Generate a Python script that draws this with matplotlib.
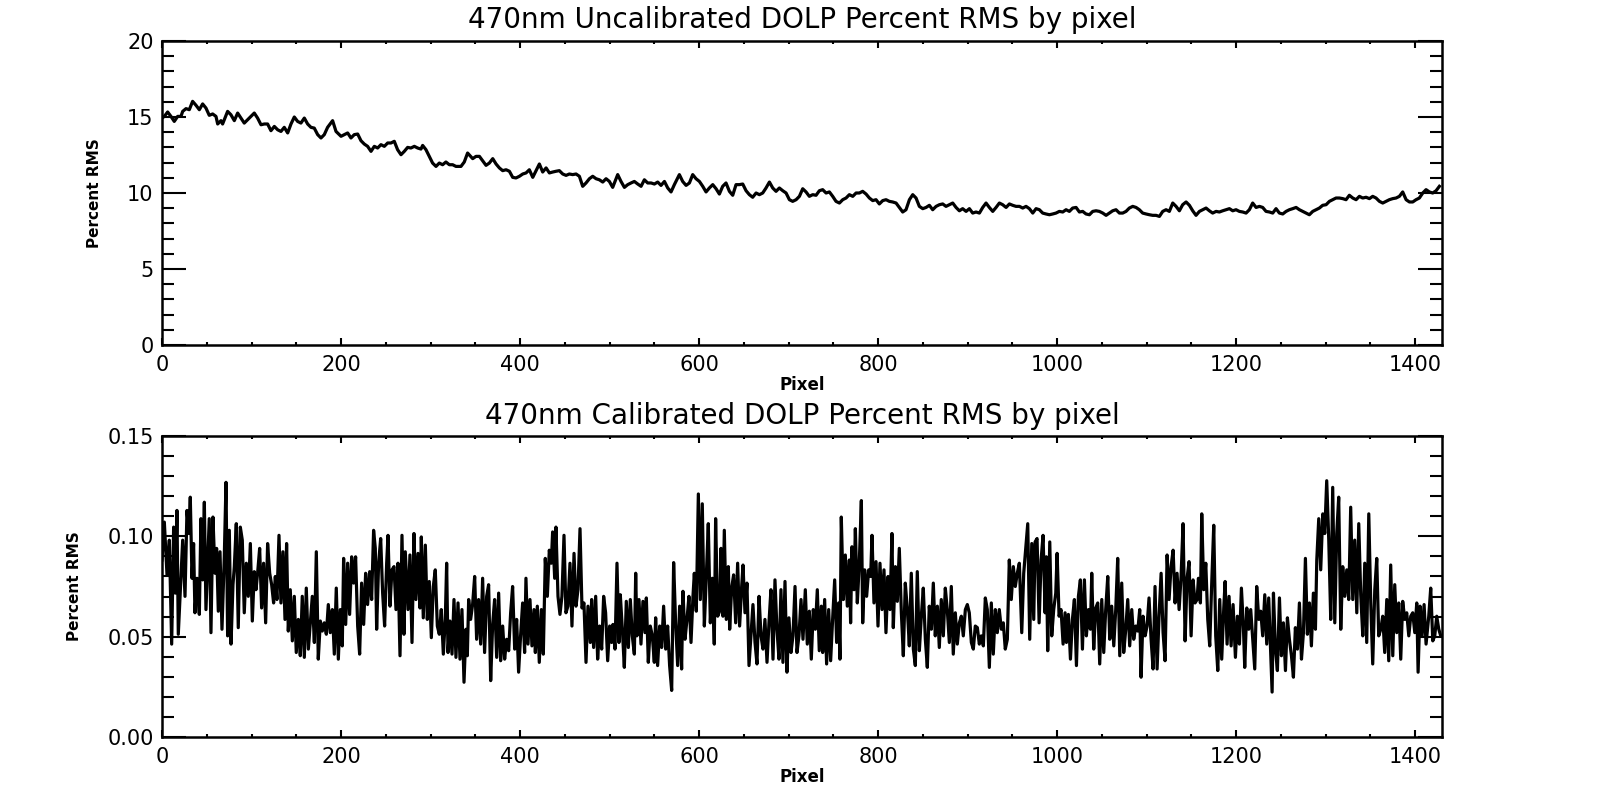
import matplotlib
matplotlib.use("Agg")
import matplotlib.pyplot as plt
from matplotlib.ticker import MultipleLocator, FixedLocator, FixedFormatter

# ---------------- data ----------------
titles = ["470nm Uncalibrated DOLP Percent RMS by pixel",
          "470nm Calibrated DOLP Percent RMS by pixel"]
x_label = "Pixel"
y_label = "Percent RMS"
x_ticks = [0, 200, 400, 600, 800, 1000, 1200, 1400]
top_y_ticks = [0, 5, 10, 15, 20]
top_y_labels = ["0", "5", "10", "15", "20"]
bottom_y_ticks = [0.00, 0.05, 0.10, 0.15]
bottom_y_labels = ["0.00", "0.05", "0.10", "0.15"]

# uncalibrated DOLP percent RMS (pixel, value)
uncal_a = [(0, 14.93), (2.6, 15.04), (6.3, 15.33), (10, 15.04), (13.7, 14.71), (17.5, 15.04),
           (21.2, 15.04), (23.1, 15.37), (26.8, 15.55), (30.5, 15.48), (34.2, 16.03), (38, 15.77),
           (41.7, 15.48), (45.4, 15.86), (49.1, 15.59), (52.8, 15.11), (56.6, 15.20), (60.3, 15.04),
           (62.2, 14.54), (65.9, 14.76), (67.7, 14.54), (73.3, 15.37), (77, 15.15), (80.8, 14.76),
           (84.5, 15.26), (88.2, 14.93), (91.9, 14.60), (97.5, 14.93), (103.1, 15.26), (106.8, 14.93),
           (110.6, 14.49), (114.3, 14.54), (118, 14.54), (121.7, 14.10), (125.5, 14.38), (129.2, 14.16),
           (132.9, 14.05), (136.6, 14.32), (140.4, 13.95), (144.1, 14.54), (147.8, 15.00), (151.5, 14.71),
           (155.2, 14.60), (159, 14.93), (162.7, 14.54), (166.4, 14.32), (170.1, 14.27), (173.9, 13.84),
           (177.6, 13.62), (181.3, 13.84), (185, 14.32), (190.6, 14.76), (194.4, 14.05), (200, 13.73),
           (203.7, 13.84), (207.4, 13.95), (211.1, 13.62), (214.8, 13.84), (218.6, 13.88), (222.3, 13.44),
           (226, 13.22), (229.7, 13.07), (233.5, 12.74), (237.2, 13.07), (240.9, 12.96), (244.6, 13.18),
           (248.4, 13.07), (252.1, 13.29), (255.8, 13.29), (259.5, 13.40), (263.2, 12.85), (267, 12.52),
           (270.7, 12.74), (274.4, 13.00), (278.1, 12.96), (281.9, 13.07), (285.6, 12.96), (289.3, 12.89),
           (291.2, 13.13), (294.9, 12.85), (298.6, 12.41), (302.3, 11.97), (306.1, 11.75), (309.8, 11.97),
           (313.5, 11.86), (317.2, 12.04), (321, 11.86), (324.7, 11.86), (328.4, 11.75), (334, 11.75),
           (337.7, 12.04), (341.4, 12.63)]
uncal_b = [(347.1, 12.26), (350.8, 12.41), (354.6, 12.41), (358.3, 12.12), (362, 11.82), (365.7, 11.97),
           (369.5, 12.26), (373.2, 11.91), (376.9, 11.65), (380.6, 11.47), (384.4, 11.53), (388.1, 11.43),
           (391.8, 11.03), (395.5, 10.99), (399.3, 11.10), (403, 11.25), (406.7, 11.32), (410.4, 11.53),
           (414.2, 11.03), (417.9, 11.47), (421.6, 11.91), (425.3, 11.38), (429.1, 11.65), (432.8, 11.32),
           (436.5, 11.38), (440.2, 11.43), (443.9, 11.47), (447.7, 11.25), (451.4, 11.16), (455.1, 11.25),
           (458.8, 11.21), (462.6, 11.25), (466.3, 11.10), (470, 10.44), (473.7, 10.66), (477.5, 10.94),
           (481.2, 11.10), (484.9, 10.94), (488.6, 10.87), (492.4, 10.72), (496.1, 10.94), (499.8, 10.76),
           (503.5, 10.37), (507.3, 10.94), (509.1, 11.21), (512.8, 10.76), (516.6, 10.37), (520.3, 10.55),
           (524, 10.66), (527.7, 10.76), (531.5, 10.59), (535.2, 10.44), (538.9, 10.87), (542.6, 10.66),
           (546.4, 10.66), (550.1, 10.59), (553.8, 10.72), (557.5, 10.50), (561.3, 10.76), (565, 10.33),
           (568.7, 10.07), (572.4, 10.55), (578, 11.21), (581.7, 10.76), (585.5, 10.50), (589.2, 10.66),
           (592.9, 11.21), (596.6, 10.94), (600.4, 10.76), (604.1, 10.44), (607.8, 10.07), (611.5, 10.33),
           (615.3, 10.55), (619, 10.28), (622.7, 9.93), (626.4, 10.44), (630.1, 10.66), (633.9, 10.11),
           (637.6, 9.85), (641.3, 10.55), (645, 10.55), (648.8, 10.59), (652.5, 10.15), (656.2, 9.89),
           (659.9, 9.72), (663.7, 10.00), (667.4, 9.89), (671.1, 10.00), (674.8, 10.33), (678.6, 10.72),
           (682.3, 10.33), (686, 10.11), (689.7, 10.33), (693.5, 10.15), (697.2, 10.00), (700.9, 9.56)]
uncal_c = [(704.6, 9.45), (708.4, 9.56), (712.1, 9.78), (715.8, 10.28), (719.5, 10.07), (723.2, 9.78),
           (727, 9.89), (730.7, 9.85), (734.4, 10.15), (738.1, 10.22), (741.9, 10.00), (745.6, 10.07),
           (749.3, 9.78), (753, 9.45), (756.8, 9.34), (760.5, 9.56), (764.2, 9.67), (767.9, 9.89),
           (771.7, 9.78), (775.4, 10.00), (779.1, 10.00), (782.8, 10.11), (786.6, 9.93), (790.3, 9.67),
           (794, 9.50), (797.7, 9.56), (801.4, 9.28), (805.2, 9.50), (808.9, 9.56), (812.6, 9.45),
           (816.3, 9.41), (820.1, 9.34), (823.8, 9.05), (827.5, 8.75), (831.2, 8.90), (835, 9.56),
           (838.7, 9.89), (842.4, 9.67), (846.1, 9.12), (849.9, 8.97), (853.6, 9.05), (857.3, 9.19),
           (861, 8.90), (864.8, 9.12), (868.5, 9.23), (872.2, 9.28), (875.9, 9.12), (879.7, 9.23),
           (883.4, 9.34), (887.1, 9.05), (890.8, 8.83), (894.5, 8.97), (898.3, 8.79), (902, 8.97),
           (905.7, 8.68), (909.4, 8.75), (913.2, 8.68), (916.9, 9.05), (920.6, 9.34), (924.3, 9.05),
           (928.1, 8.79), (931.8, 9.05), (935.5, 9.34), (939.2, 9.23), (943, 9.05), (946.7, 9.28),
           (950.4, 9.19), (954.1, 9.12), (957.9, 9.12), (961.6, 9.01), (965.3, 9.12), (969, 8.97),
           (972.8, 8.68), (976.5, 8.97), (980.2, 8.90), (983.9, 8.68), (987.6, 8.62), (991.4, 8.57),
           (995.1, 8.62), (998.8, 8.68), (1002.5, 8.79), (1006.3, 8.75), (1010, 8.90), (1013.7, 8.79),
           (1017.4, 9.01), (1021.2, 9.05), (1024.9, 8.75), (1028.6, 8.79), (1032.3, 8.62), (1036.1, 8.57),
           (1039.8, 8.79), (1043.5, 8.83), (1047.2, 8.79), (1051, 8.68), (1054.7, 8.53), (1058.4, 8.68)]
uncal_d = [(1062.1, 8.83), (1065.8, 8.90), (1069.6, 8.68), (1073.3, 8.68), (1077, 8.79), (1080.7, 9.01),
           (1084.5, 9.12), (1088.2, 9.05), (1091.9, 8.90), (1095.6, 8.68), (1099.4, 8.62), (1103.1, 8.57),
           (1106.8, 8.53), (1110.5, 8.53), (1114.3, 8.46), (1118, 8.79), (1121.7, 8.90), (1125.4, 8.79),
           (1129.2, 9.34), (1132.9, 9.12), (1136.6, 8.83), (1140.3, 9.23), (1144.1, 9.41), (1147.8, 9.19),
           (1151.5, 8.83), (1155.2, 8.53), (1159, 8.79), (1162.7, 8.90), (1166.4, 9.01), (1170.1, 8.83),
           (1173.8, 8.68), (1177.6, 8.79), (1181.3, 8.75), (1185, 8.83), (1188.7, 8.90), (1192.5, 8.97),
           (1196.2, 8.83), (1199.9, 8.90), (1203.6, 8.79), (1207.4, 8.75), (1211.1, 8.68), (1214.8, 8.90),
           (1218.5, 9.34), (1222.3, 9.05), (1226, 9.12), (1229.7, 9.05), (1233.4, 8.79), (1237.2, 8.75),
           (1240.9, 8.68), (1244.6, 8.97), (1248.3, 8.68), (1252.1, 8.62), (1255.8, 8.79), (1259.5, 8.90),
           (1263.2, 8.97), (1267, 9.05), (1270.7, 8.90), (1274.4, 8.79), (1278.1, 8.68), (1281.8, 8.57),
           (1285.6, 8.79), (1289.3, 8.90), (1293, 9.01), (1296.7, 9.19), (1300.5, 9.23), (1304.2, 9.45),
           (1307.9, 9.56), (1311.6, 9.67), (1315.4, 9.67), (1319.1, 9.63), (1322.8, 9.56), (1326.5, 9.85),
           (1330.3, 9.67), (1334, 9.56), (1337.7, 9.78), (1341.4, 9.67), (1345.2, 9.72), (1348.9, 9.63),
           (1352.6, 9.78), (1356.3, 9.67), (1360.1, 9.45), (1363.8, 9.34), (1367.5, 9.45), (1371.2, 9.56),
           (1375, 9.63), (1378.7, 9.67), (1382.4, 9.78), (1386.1, 10.07), (1389.9, 9.56), (1393.6, 9.41),
           (1397.3, 9.41), (1401, 9.56), (1404.7, 9.67), (1408.5, 10.00), (1412.2, 10.22), (1415.9, 10.07),
           (1419.6, 10.00), (1423.4, 10.15), (1427.1, 10.44)]

# calibrated DOLP percent RMS (pixel, value)
cal_a = [(0, 0.0882), (2.6, 0.1071), (5.6, 0.0808), (8.2, 0.0981), (10.8, 0.0463), (13, 0.1046),
         (14.9, 0.0717), (16.7, 0.1129), (18.2, 0.0512), (20.4, 0.0726), (23.1, 0.0981), (25.7, 0.0701),
         (27.9, 0.1129), (30.1, 0.1014), (31.6, 0.1195), (33.5, 0.0791), (35.3, 0.0964), (36.8, 0.0619),
         (39.1, 0.0791), (41.7, 0.0611), (43.5, 0.1088), (45.4, 0.0783), (47.3, 0.1170), (49.1, 0.0635),
         (51, 0.0866), (52.8, 0.1088), (54.7, 0.0520), (56.9, 0.1096), (59.2, 0.0816), (61, 0.0940),
         (62.9, 0.0627), (64.8, 0.0923), (67, 0.0537), (69.6, 0.0898), (71.5, 0.1269), (73.3, 0.0504),
         (75.2, 0.1030), (77.1, 0.0463), (79.3, 0.0759), (80.8, 0.0849), (83, 0.1063), (85.2, 0.0545),
         (87.5, 0.1046), (89.7, 0.0981), (91.9, 0.0619), (94.2, 0.0866), (96.4, 0.0701), (98.7, 0.0964),
         (100.9, 0.0578), (103.1, 0.0824), (105, 0.0734), (106.8, 0.0816), (109.1, 0.0940), (111.3, 0.0643),
         (113.5, 0.0866), (115.8, 0.0569), (118, 0.0964), (120.3, 0.0816), (122.5, 0.0759), (124.7, 0.0668),
         (126.6, 0.0800), (128.4, 0.0685), (130.7, 0.1005), (132.9, 0.0668), (135.1, 0.0923), (137.4, 0.0586),
         (139.2, 0.0964), (141.1, 0.0528), (143.3, 0.0734), (145.6, 0.0479), (147.8, 0.0701), (150, 0.0421),
         (152.3, 0.0586), (154.5, 0.0405), (156.7, 0.0701), (159, 0.0397), (161.2, 0.0742), (163.5, 0.0438),
         (165.7, 0.0569), (167.9, 0.0701), (170.2, 0.0471), (172.4, 0.0923), (174.6, 0.0388), (176.9, 0.0578),
         (179.1, 0.0528), (181.3, 0.0569), (183.6, 0.0512), (185.8, 0.0660), (188, 0.0520), (190.3, 0.0635),
         (192.5, 0.0413), (194.7, 0.0742), (197, 0.0388), (199.2, 0.0635), (201.4, 0.0454), (202.9, 0.0890),
         (205.2, 0.0561), (207.4, 0.0866), (209.6, 0.0611), (211.9, 0.0898), (214.1, 0.0767), (216.3, 0.0898),
         (218.6, 0.0553), (220.8, 0.0413), (223, 0.0767), (225.3, 0.0561), (227.5, 0.0816), (229.7, 0.0660),
         (232, 0.0824), (234.2, 0.0685), (236.4, 0.1030)]
cal_b = [(238.3, 0.0940), (239.8, 0.0537), (242, 0.0866), (244.3, 0.0989), (246.5, 0.0717), (248.7, 0.0553),
         (251, 0.0866), (252.5, 0.1005), (254.7, 0.0652), (256.9, 0.0833), (259.2, 0.0849), (261.4, 0.0635),
         (263.6, 0.0866), (265.9, 0.0405), (268.1, 0.1005), (270.3, 0.0512), (271.8, 0.0923), (274.8, 0.0635),
         (277, 0.0907), (279.3, 0.0471), (281.5, 0.1014), (283.7, 0.0685), (286, 0.0915), (288.2, 0.0643),
         (289.7, 0.0997), (291.9, 0.0594), (294.2, 0.0956), (296.4, 0.0586), (298.6, 0.0775), (300.9, 0.0495),
         (303.1, 0.0750), (305.3, 0.0833), (307.6, 0.0553), (309.8, 0.0512), (312, 0.0635), (314.3, 0.0413),
         (316.5, 0.0586), (318, 0.0866), (319.5, 0.0421), (321.7, 0.0578), (324, 0.0413), (326.2, 0.0685),
         (328.4, 0.0397), (330.7, 0.0668), (332.9, 0.0388), (335.1, 0.0635), (337.4, 0.0273), (339.6, 0.0537),
         (341.1, 0.0405), (342.6, 0.0685), (344.8, 0.0586), (347, 0.0660), (349.3, 0.0800), (351.5, 0.0487),
         (353.7, 0.0685), (356, 0.0463), (358.2, 0.0791), (360.4, 0.0421), (362.7, 0.0701), (364.9, 0.0759),
         (367.2, 0.0281), (369.4, 0.0561), (371.6, 0.0685), (373.9, 0.0397), (376.1, 0.0717), (378.3, 0.0380),
         (380.6, 0.0553), (382.8, 0.0388), (385, 0.0487), (387.3, 0.0430), (389.5, 0.0619), (391.7, 0.0750),
         (394, 0.0438), (396.2, 0.0586), (398.4, 0.0323), (400.7, 0.0512), (402.9, 0.0668), (405.1, 0.0421),
         (406.6, 0.0791), (408.9, 0.0463), (411.1, 0.0685), (413.3, 0.0454), (415.6, 0.0635), (417.1, 0.0421),
         (419.3, 0.0652), (421.5, 0.0372), (423.8, 0.0635), (426, 0.0413), (428.2, 0.0890), (430.5, 0.0701),
         (432.7, 0.0931), (434.9, 0.0866), (436.4, 0.1022), (438.7, 0.0791), (440.1, 0.1046), (442.4, 0.0701),
         (444.6, 0.0611), (446.8, 0.0701), (449.1, 0.1005), (451.3, 0.0619), (453.5, 0.0652), (455.8, 0.0866),
         (458, 0.0553), (460.3, 0.0915), (462.5, 0.0652), (464.7, 0.0734), (467, 0.1038), (469.2, 0.0643),
         (471.4, 0.0668), (473.7, 0.0372), (475.9, 0.0652)]
cal_c = [(478.5, 0.0471), (480, 0.0685), (482.2, 0.0446), (484.5, 0.0701), (486.7, 0.0388), (488.9, 0.0553),
         (491.2, 0.0438), (493.4, 0.0701), (495.6, 0.0619), (497.9, 0.0380), (500.1, 0.0553), (502.3, 0.0471),
         (503.8, 0.0561), (506.1, 0.0438), (508.3, 0.0866), (510.5, 0.0471), (512, 0.0709), (514.3, 0.0537),
         (516.5, 0.0347), (518.7, 0.0676), (521, 0.0446), (523.2, 0.0685), (525.4, 0.0504), (527.7, 0.0413),
         (529.2, 0.0816), (530.6, 0.0504), (532.9, 0.0685), (535.1, 0.0463), (537.3, 0.0676), (539.6, 0.0520),
         (541.1, 0.0693), (543.3, 0.0372), (545.5, 0.0553), (547.8, 0.0504), (550, 0.0372), (551.5, 0.0594),
         (553.7, 0.0356), (556, 0.0553), (558.2, 0.0446), (560.4, 0.0652), (562.7, 0.0438), (564.9, 0.0553),
         (567.1, 0.0356), (569.4, 0.0232), (571.6, 0.0869), (573.8, 0.0569), (576.1, 0.0356), (578.3, 0.0652),
         (580.5, 0.0339), (582, 0.0726), (584.3, 0.0487), (586.5, 0.0586), (588.7, 0.0701), (591, 0.0471),
         (593.2, 0.0701), (594.7, 0.0816), (596.9, 0.0627), (599.2, 0.1211), (601.4, 0.0685), (603.6, 0.1162),
         (605.9, 0.0553), (608.1, 0.0800), (610.3, 0.1063), (612.6, 0.0569), (614.8, 0.0791), (617, 0.0463),
         (618.5, 0.1088), (620.8, 0.0602), (623, 0.0627), (624.5, 0.0940), (626.7, 0.0602), (628.2, 0.1030),
         (630.4, 0.0586), (632.7, 0.0849), (634.2, 0.0537), (636.4, 0.0742), (638.6, 0.0808), (640.9, 0.0569),
         (643.1, 0.0866), (645.3, 0.0553), (647.6, 0.0750), (649.1, 0.0857), (651.3, 0.0619), (653.5, 0.0767),
         (655.8, 0.0356), (658, 0.0504), (660.2, 0.0660), (662.5, 0.0471), (664.7, 0.0364), (667, 0.0701),
         (669.2, 0.0504), (671.4, 0.0438), (673.6, 0.0586), (675.9, 0.0372), (678.1, 0.0569), (680.3, 0.0734),
         (682.6, 0.0388), (684.8, 0.0783), (687, 0.0537), (689.3, 0.0388), (691.5, 0.0734), (693.7, 0.0372),
         (696, 0.0775), (698.2, 0.0323), (700.4, 0.0594), (702.7, 0.0421), (704.9, 0.0504), (707.2, 0.0750),
         (709.4, 0.0421), (711.6, 0.0504), (713.9, 0.0685), (716.1, 0.0487)]
cal_d = [(718.7, 0.0734), (720.9, 0.0463), (723.2, 0.0627), (725.4, 0.0388), (727.6, 0.0635), (729.9, 0.0537),
         (732.1, 0.0734), (734.3, 0.0430), (736.6, 0.0652), (738.1, 0.0421), (740.3, 0.0685), (742.5, 0.0364),
         (744.8, 0.0635), (747, 0.0380), (749.2, 0.0586), (751.5, 0.0783), (753.7, 0.0471), (755.9, 0.0668),
         (757.4, 0.0388), (758.9, 0.1096), (761.2, 0.0685), (763.4, 0.0907), (765.6, 0.0652), (767.9, 0.0882),
         (769.3, 0.0569), (770.8, 0.0948), (773.1, 0.0734), (774.6, 0.1038), (776.8, 0.0668), (779, 0.0866),
         (781.3, 0.1178), (782.8, 0.0569), (785, 0.0833), (787.2, 0.0701), (789.5, 0.0833), (791.7, 0.0800),
         (793.2, 0.1005), (795.4, 0.0668), (797.7, 0.0874), (799.9, 0.0553), (802.1, 0.0866), (804.4, 0.0635),
         (806.6, 0.0833), (808.8, 0.0520), (811.1, 0.0800), (813.3, 0.0635), (815.5, 0.1014), (817, 0.0545),
         (819.3, 0.0849), (821.5, 0.0676), (823.7, 0.0940), (826, 0.0619), (828.2, 0.0405), (830.4, 0.0767),
         (832.7, 0.0635), (834.9, 0.0454), (837.1, 0.0816), (839.4, 0.0438), (841.6, 0.0356), (843.8, 0.0824),
         (846.1, 0.0430), (848.3, 0.0602), (850.5, 0.0742), (852.8, 0.0487), (855, 0.0347), (857.2, 0.0652),
         (859.5, 0.0537), (861.7, 0.0767), (863.9, 0.0504), (866.2, 0.0652), (868.4, 0.0446), (870.6, 0.0685),
         (872.9, 0.0504), (875.1, 0.0742), (877.3, 0.0635), (879.6, 0.0471), (881.8, 0.0750), (884, 0.0413),
         (886.3, 0.0619), (888.5, 0.0463), (890.8, 0.0569), (893, 0.0602), (895.2, 0.0504), (897.5, 0.0635),
         (899.7, 0.0660), (901.9, 0.0619), (904.2, 0.0471), (906.4, 0.0438), (908.6, 0.0553), (910.9, 0.0545),
         (913.1, 0.0463), (915.3, 0.0504), (917.6, 0.0454), (919.8, 0.0693), (922, 0.0635), (924.3, 0.0347),
         (926.5, 0.0668), (928.7, 0.0413), (931, 0.0635), (933.2, 0.0520), (935.4, 0.0635), (937.7, 0.0537),
         (939.9, 0.0569), (942.1, 0.0438), (944.4, 0.0487), (946.6, 0.0882), (948.8, 0.0685), (951.1, 0.0849),
         (953.3, 0.0750), (955.5, 0.0816), (957.8, 0.0866)]
cal_e = [(960.5, 0.0520), (962.7, 0.0816), (965, 0.0940), (967.2, 0.1063), (969.4, 0.0487), (971.7, 0.0964),
         (973.9, 0.0586), (975.4, 0.0972), (977.6, 0.0989), (979.9, 0.0569), (982.1, 0.0882), (984.3, 0.1005),
         (986.6, 0.0619), (988, 0.0898), (989.5, 0.0430), (991.8, 0.0972), (994, 0.0504), (996.2, 0.0635),
         (998.5, 0.0717), (1000, 0.0915), (1002.2, 0.0602), (1004.4, 0.0635), (1006.7, 0.0463), (1008.9, 0.0619),
         (1010.4, 0.0471), (1012.6, 0.0611), (1014.9, 0.0388), (1017.1, 0.0586), (1019.3, 0.0685), (1021.6, 0.0356),
         (1023.8, 0.0701), (1026, 0.0783), (1028.3, 0.0438), (1030.5, 0.0783), (1032.7, 0.0504), (1035, 0.0635),
         (1037.2, 0.0537), (1038.7, 0.0816), (1040.9, 0.0438), (1043.2, 0.0643), (1045.4, 0.0668), (1047.6, 0.0364),
         (1049.9, 0.0685), (1052.1, 0.0421), (1054.3, 0.0635), (1056.6, 0.0800), (1058.8, 0.0487), (1061, 0.0652),
         (1063.3, 0.0454), (1065.5, 0.0635), (1067.7, 0.0890), (1070, 0.0405), (1072.2, 0.0767), (1074.4, 0.0421),
         (1076.7, 0.0537), (1078.9, 0.0685), (1081.1, 0.0454), (1083.4, 0.0635), (1085.6, 0.0487), (1087.9, 0.0553),
         (1090.1, 0.0528), (1092.3, 0.0635), (1093.8, 0.0298), (1096, 0.0602), (1098.3, 0.0504), (1100.5, 0.0553),
         (1102.7, 0.0693), (1105, 0.0487), (1107.2, 0.0339), (1109.4, 0.0750), (1111.7, 0.0339), (1113.9, 0.0602),
         (1116.2, 0.0816), (1118.4, 0.0520), (1120.6, 0.0380), (1122.9, 0.0907), (1125.1, 0.0685), (1127.3, 0.0849),
         (1129.6, 0.0931), (1131.8, 0.0668), (1134, 0.0816), (1136.3, 0.0635), (1138.5, 0.0800), (1140.7, 0.1063),
         (1143, 0.0479), (1145.2, 0.0791), (1147.4, 0.0874), (1149.7, 0.0504), (1151.9, 0.0783), (1154.1, 0.0668),
         (1156.4, 0.0685), (1157.9, 0.0791), (1160.1, 0.0668), (1161.6, 0.1112), (1163.8, 0.0734), (1166.1, 0.0866),
         (1168.3, 0.0586), (1170.5, 0.0454), (1172.8, 0.0775), (1175, 0.1055), (1177.2, 0.0504), (1179.5, 0.0331),
         (1181.7, 0.0685), (1183.9, 0.0388), (1186.2, 0.0643), (1187.7, 0.0775), (1189.9, 0.0463), (1192.1, 0.0701),
         (1194.4, 0.0454), (1196.6, 0.0660)]
cal_f = [(1199.2, 0.0397), (1201.4, 0.0602), (1203.7, 0.0463), (1205.9, 0.0742), (1208.1, 0.0553), (1209.6, 0.0347),
         (1211.9, 0.0643), (1214.1, 0.0537), (1216.3, 0.0635), (1218.6, 0.0487), (1220.8, 0.0339), (1223, 0.0750),
         (1225.3, 0.0586), (1227.5, 0.0627), (1229.7, 0.0504), (1232, 0.0709), (1234.2, 0.0463), (1236.4, 0.0693),
         (1237.9, 0.0504), (1240.2, 0.0224), (1241.7, 0.0717), (1243.9, 0.0438), (1246.1, 0.0331), (1248.4, 0.0693),
         (1250.6, 0.0405), (1252.8, 0.0569), (1255.1, 0.0331), (1257.3, 0.0594), (1259.5, 0.0487), (1261.8, 0.0405),
         (1264, 0.0298), (1266.2, 0.0545), (1268.5, 0.0438), (1270.7, 0.0668), (1273, 0.0388), (1275.2, 0.0520),
         (1277.4, 0.0890), (1279.6, 0.0512), (1281.9, 0.0668), (1284.1, 0.0454), (1286.3, 0.0717), (1288.6, 0.0537),
         (1290.1, 0.0882), (1292.3, 0.1088), (1294.5, 0.0833), (1296.8, 0.1112), (1299, 0.1014), (1301.2, 0.1277),
         (1303.5, 0.0981), (1305.7, 0.0586), (1307.9, 0.1244), (1310.2, 0.0569), (1312.4, 0.1014), (1314.6, 0.1195),
         (1316.9, 0.0537), (1319.1, 0.0849), (1321.4, 0.0701), (1323.6, 0.0833), (1325.8, 0.0685), (1328, 0.1145),
         (1330.3, 0.0685), (1332.5, 0.0981), (1334.8, 0.0619), (1337, 0.1063), (1339.2, 0.0709), (1341.5, 0.0504),
         (1343.7, 0.0866), (1345.9, 0.0471), (1348.2, 0.1112), (1350.4, 0.0668), (1352.6, 0.0364), (1354.9, 0.0734),
         (1357.1, 0.0890), (1359.3, 0.0504), (1361.6, 0.0537), (1363.8, 0.0602), (1366, 0.0421), (1368.3, 0.0685),
         (1370.5, 0.0380), (1372.7, 0.0857), (1375, 0.0405), (1377.2, 0.0759), (1379.4, 0.0520), (1381.7, 0.0668),
         (1383.9, 0.0388), (1386.1, 0.0676), (1388.4, 0.0586), (1390.6, 0.0619), (1392.9, 0.0504), (1395.1, 0.0602),
         (1397.3, 0.0619), (1399.6, 0.0520), (1401.8, 0.0668), (1403.3, 0.0323), (1405.5, 0.0652), (1407.7, 0.0504),
         (1410, 0.0660), (1412.2, 0.0463), (1415.2, 0.0602), (1417.4, 0.0742), (1419.7, 0.0479), (1421.9, 0.0504),
         (1424.1, 0.0602), (1426.4, 0.0537), (1428.6, 0.0504)]

x_max = 1430

# ---------------- figure ----------------
plt.rcParams['font.family'] = ['DejaVu Sans']
W, H = 1618, 794
fig = plt.figure(figsize=(W / 100, H / 100), dpi=100)
fig.patch.set_facecolor('white')

def frac(left, top, right, bottom):
    return [left / W, 1 - bottom / H, (right - left) / W, (bottom - top) / H]

ax1 = fig.add_axes(frac(162, 41, 1442, 345))
ax2 = fig.add_axes(frac(162, 436, 1442, 737))

uncal = uncal_a + uncal_b + uncal_c + uncal_d
cal = cal_a + cal_b + cal_c + cal_d + cal_e + cal_f

def style(ax, title, yt, yl, ymax, yminor):
    ax.set_xlim(0, x_max)
    ax.set_ylim(0, ymax)
    ax.xaxis.set_major_locator(FixedLocator(x_ticks))
    ax.xaxis.set_minor_locator(MultipleLocator(50))
    ax.yaxis.set_major_locator(FixedLocator(yt))
    ax.yaxis.set_major_formatter(FixedFormatter(yl))
    ax.yaxis.set_minor_locator(MultipleLocator(yminor))
    ax.tick_params(which='both', direction='in', top=True, right=True,
                   width=1.5, color='black', labelsize=15)
    ax.tick_params(axis='y', which='major', length=17, pad=6)
    ax.tick_params(axis='y', which='minor', length=8.5)
    ax.tick_params(axis='x', which='major', length=5, pad=7)
    ax.tick_params(axis='x', which='minor', length=2.5)
    for s in ax.spines.values():
        s.set_linewidth(1.8)
    ax.set_title(title, fontsize=20, pad=9)
    ax.set_xlabel(x_label, fontsize=12, fontweight='bold', labelpad=1)
    ax.set_ylabel(y_label, fontsize=11, fontweight='bold', labelpad=18)

ax1.plot([p[0] for p in uncal], [p[1] for p in uncal], color='black', lw=2.3)
style(ax1, titles[0], top_y_ticks, top_y_labels, 20, 1)

ax2.plot([p[0] for p in cal], [p[1] for p in cal], color='black', lw=2.3)
style(ax2, titles[1], bottom_y_ticks, bottom_y_labels, 0.15, 0.01)

fig.savefig("out.png", dpi=100, facecolor='white')
